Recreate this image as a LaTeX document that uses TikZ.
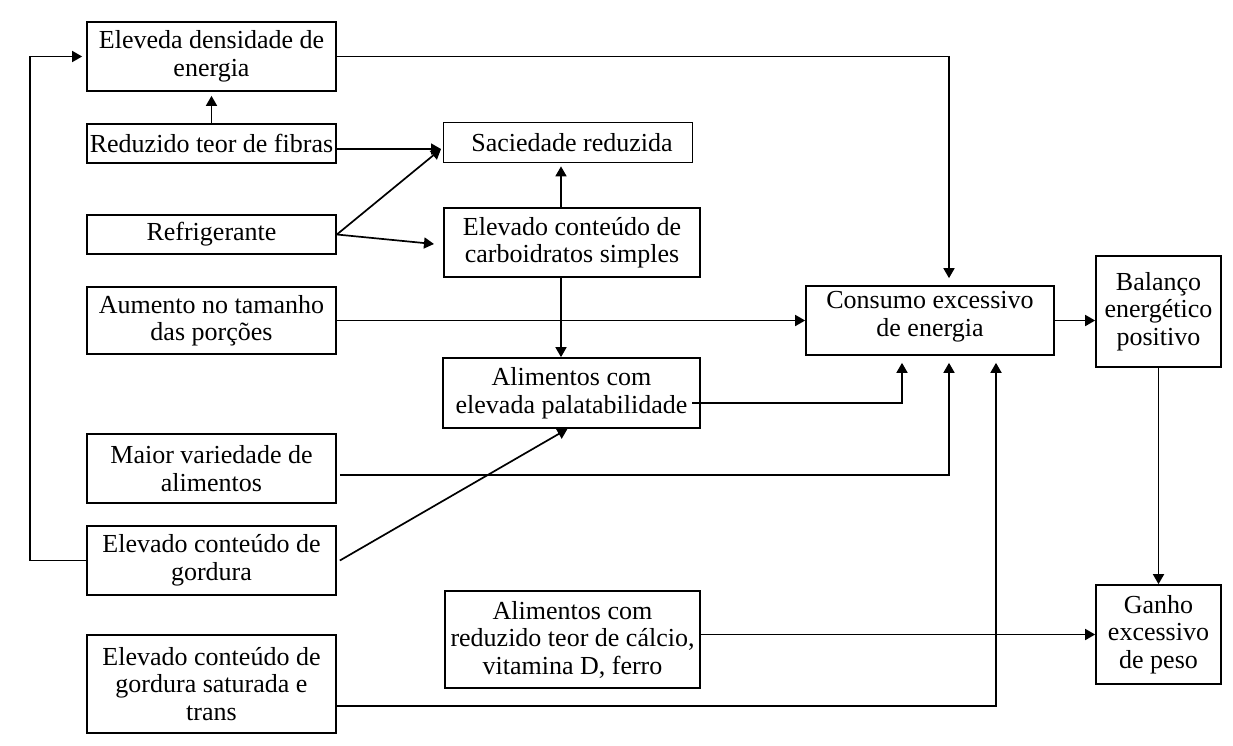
\documentclass[tikz,border=0pt]{standalone}
\usepackage{fontspec}
\setmainfont{Liberation Serif}
\usetikzlibrary{arrows.meta}
\begin{document}
\begin{tikzpicture}[x=1pt,y=-1pt,
  box/.style={draw, line width=1.7pt, inner sep=2pt, align=center, font=\fontsize{26}{27.5}\selectfont},
  arr/.style={line width=1.7pt, -{Triangle[length=10pt,width=11pt]}}]
\useasboundingbox (0,0) rectangle (1233,745);
\fill[white] (0,0) rectangle (1233,745);
% left column
\node[box, minimum width=249pt, minimum height=69pt] (dens) at (211.5,56.5) {Eleveda densidade de\\energia};
\node[box, minimum width=249pt, minimum height=39pt] (fib) at (211.5,143.5) {Reduzido teor de fibras};
\node[box, minimum width=249pt, minimum height=39pt] (refr) at (211.5,234.5) {Refrigerante};
\node[box, minimum width=249pt, minimum height=67pt] (aum) at (211.5,320.5) {Aumento no tamanho\\das porções};
\node[box, minimum width=249pt, minimum height=69pt] (maior) at (211.5,468.5) {Maior variedade de\\alimentos};
\node[box, minimum width=249pt, minimum height=69pt] (gord) at (211.5,560.5) {Elevado conteúdo de\\gordura};
\node[box, minimum width=249pt, minimum height=98pt] (sat) at (211.5,684) {Elevado conteúdo de\\gordura saturada e\\trans};
% middle column
\node[box, minimum width=249pt, minimum height=40pt] (sac) at (568,142.5) {\hspace{8pt}Saciedade reduzida};
\node[box, minimum width=256pt, minimum height=69pt] (carb) at (572,242.5) {Elevado conteúdo de\\carboidratos simples};
\node[box, minimum width=257pt, minimum height=70pt] (pal) at (571.5,393) {Alimentos com\\elevada palatabilidade};
\node[box, minimum width=255pt, minimum height=97pt] (calc) at (572.5,639.5) {Alimentos com\\reduzido teor de cálcio,\\vitamina D, ferro};
% right
\node[box, minimum width=248pt, minimum height=69pt] (cons) at (930,320.5) {Consumo excessivo\\de energia\\[-14pt]};
\node[box, minimum width=125pt, minimum height=111pt] (bal) at (1158.5,311.5) {Balanço\\energético\\positivo};
\node[box, minimum width=125pt, minimum height=99pt] (ganho) at (1158.5,634.5) {Ganho\\excessivo\\de peso};
% helper coordinates
\coordinate (j) at (441,149);
\coordinate (ci) at (434,244);
\coordinate (cx) at (561,0);
\coordinate (c1) at (902,0);
\coordinate (c2) at (949,0);
\coordinate (c3) at (996,0);
\coordinate (p) at (692,403);
\coordinate (m) at (0,475);
\coordinate (s) at (0,706);
% connectors
\draw[arr, shorten >=4pt] (gord.west) -- ++(-56,0) |- (dens.west);
\draw[arr, shorten >=4pt] (fib.north) -- (dens.south);
\draw[arr] (fib.east |- j) -- (j);
\draw[arr] (refr.east) -- (j);
\draw[arr] (refr.east) -- (ci);
\draw[arr, shorten >=3pt] (carb.north -| cx) -- (sac.south -| cx);
\draw[arr] (carb.south -| cx) -- (pal.north -| cx);
\draw[arr] (aum.east) -- (cons.west);
\draw[arr, shorten >=7pt] (dens.east) -| (cons.north -| c2);
\draw[arr, shorten >=7pt] (p) -| (cons.south -| c1);
\draw[arr, shorten >=7pt] ([xshift=3pt]maior.east |- m) -| (cons.south -| c2);
\draw[arr] ([xshift=3pt]gord.east) -- ([xshift=-4pt]pal.south);
\draw[arr, shorten >=7pt] (sat.east |- s) -| (cons.south -| c3);
\draw[arr] (cons.east) -- (cons.east -| bal.west);
\draw[arr] (bal.south) -- (ganho.north);
\draw[arr] (calc.east |- ganho.west) -- (ganho.west);
\end{tikzpicture}
\end{document}
